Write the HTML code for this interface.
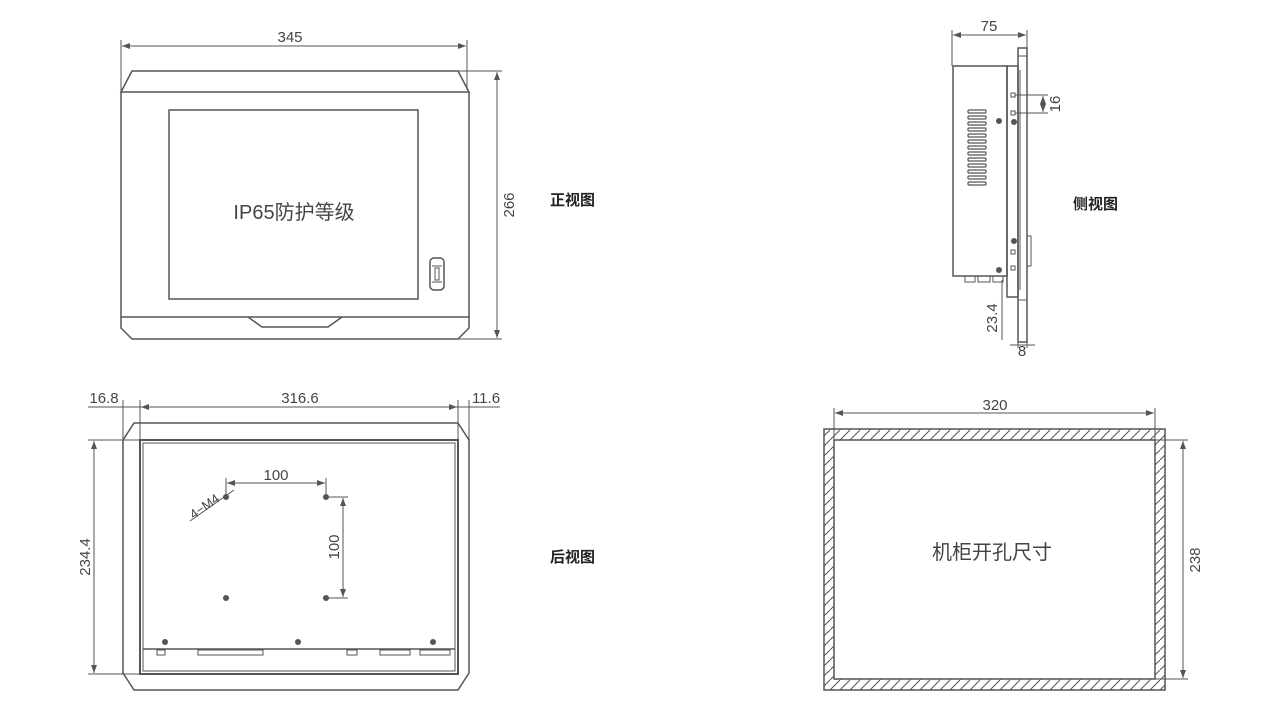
<!DOCTYPE html>
<html><head><meta charset="utf-8"><style>
html,body{margin:0;padding:0;background:#fff;}
svg{display:block;font-family:"Liberation Sans","Noto Sans CJK SC",sans-serif;}
</style></head><body>
<svg width="1280" height="710" viewBox="0 0 1280 710" xmlns="http://www.w3.org/2000/svg">
<defs>
<pattern id="h" width="10" height="10" patternUnits="userSpaceOnUse">
<line x1="0" y1="10" x2="10" y2="0" stroke="#555" stroke-width="1"/>
</pattern>
<marker id="a" markerWidth="8" markerHeight="6" refX="8" refY="3" orient="auto-start-reverse" markerUnits="userSpaceOnUse"><path d="M0,0L8,3L0,6z" fill="#555"/></marker>
</defs>
<g stroke="#555" fill="none" stroke-width="1">
<!-- FRONT VIEW -->
<line x1="121" y1="40" x2="121" y2="92"/><line x1="467" y1="40" x2="467" y2="90"/>
<line x1="122" y1="46" x2="466" y2="46" marker-start="url(#a)" marker-end="url(#a)"/>
<path d="M121,92 L132,71 L458,71 L469,92 Z" stroke-width="1.5"/>
<path d="M121,92 L121,317 L469,317 L469,92" stroke-width="1.5"/>
<path d="M121,317 L121,328 L132,339 L458,339 L469,328 L469,317" stroke-width="1.5"/>
<path d="M248,317 L262,327 L328,327 L342,317" stroke-width="1.5"/>
<rect x="169" y="110" width="249" height="189" stroke-width="1.5"/>
<rect x="430" y="258" width="14" height="32" rx="4" stroke-width="1.5"/>
<line x1="432" y1="266" x2="442" y2="266"/><line x1="432" y1="282" x2="442" y2="282"/>
<rect x="435" y="268" width="4" height="12"/>
<line x1="458" y1="71" x2="502" y2="71"/><line x1="458" y1="339" x2="502" y2="339"/>
<line x1="497" y1="72" x2="497" y2="338" marker-start="url(#a)" marker-end="url(#a)"/>
<!-- SIDE VIEW -->
<line x1="952" y1="30" x2="952" y2="66"/><line x1="1027" y1="30" x2="1027" y2="48"/>
<line x1="953" y1="35" x2="1026" y2="35" marker-start="url(#a)" marker-end="url(#a)"/>
<rect x="953" y="66" width="54" height="210" stroke-width="1.5"/>
<rect x="1007" y="66" width="11" height="231" stroke-width="1.5"/>
<rect x="1018" y="48" width="9" height="294" stroke-width="1.5"/>
<line x1="1018" y1="56" x2="1027" y2="56"/><line x1="1018" y1="300" x2="1027" y2="300"/>
<line x1="1020" y1="70" x2="1020" y2="290"/>
<rect x="1027" y="236" width="4" height="30"/>
<g stroke-width="1.2">
<rect x="968" y="110" width="18" height="3" rx="1"/><rect x="968" y="116" width="18" height="3" rx="1"/><rect x="968" y="122" width="18" height="3" rx="1"/><rect x="968" y="128" width="18" height="3" rx="1"/><rect x="968" y="134" width="18" height="3" rx="1"/><rect x="968" y="140" width="18" height="3" rx="1"/><rect x="968" y="146" width="18" height="3" rx="1"/><rect x="968" y="152" width="18" height="3" rx="1"/><rect x="968" y="158" width="18" height="3" rx="1"/><rect x="968" y="164" width="18" height="3" rx="1"/><rect x="968" y="170" width="18" height="3" rx="1"/><rect x="968" y="176" width="18" height="3" rx="1"/><rect x="968" y="182" width="18" height="3" rx="1"/>
</g>
<rect x="1011" y="93" width="4" height="4"/><rect x="1011" y="111" width="4" height="4"/>
<rect x="1011" y="250" width="4" height="4"/><rect x="1011" y="266" width="4" height="4"/>
<line x1="1015" y1="95" x2="1048" y2="95"/><line x1="1015" y1="113" x2="1048" y2="113"/>
<line x1="1043" y1="96" x2="1043" y2="112" marker-start="url(#a)" marker-end="url(#a)"/>
<rect x="965" y="276" width="10" height="6"/><rect x="978" y="276" width="12" height="6"/><rect x="993" y="276" width="10" height="6"/>
<line x1="1002" y1="280" x2="1002" y2="340"/>
<line x1="1018" y1="342" x2="1018" y2="348"/><line x1="1027" y1="342" x2="1027" y2="348"/>
<line x1="1010" y1="345" x2="1035" y2="345"/>
<!-- BACK VIEW -->
<line x1="123" y1="400" x2="123" y2="440"/><line x1="140" y1="400" x2="140" y2="440"/>
<line x1="458" y1="400" x2="458" y2="440"/><line x1="469" y1="400" x2="469" y2="440"/>
<line x1="88" y1="407" x2="500" y2="407"/>
<line x1="141" y1="407" x2="457" y2="407" marker-start="url(#a)" marker-end="url(#a)"/>
<path d="M123,440 L134,423 L458,423 L469,440 L469,673 L458,690 L134,690 L123,673 Z" stroke-width="1.5"/>
<rect x="140" y="440" width="318" height="234" stroke-width="2"/>
<rect x="143" y="443" width="312" height="228" stroke-width="1"/>
<line x1="143" y1="649" x2="455" y2="649" stroke-width="1.5"/>
<rect x="157" y="650" width="8" height="5"/><rect x="198" y="650" width="65" height="5"/><rect x="347" y="650" width="10" height="5"/><rect x="380" y="650" width="30" height="5"/><rect x="420" y="650" width="30" height="5"/>
<line x1="88" y1="440" x2="140" y2="440"/><line x1="88" y1="674" x2="140" y2="674"/>
<line x1="94" y1="441" x2="94" y2="673" marker-start="url(#a)" marker-end="url(#a)"/>
<line x1="226" y1="478" x2="226" y2="497"/><line x1="326" y1="478" x2="326" y2="497"/>
<line x1="227" y1="483" x2="325" y2="483" marker-start="url(#a)" marker-end="url(#a)"/>
<line x1="326" y1="497" x2="348" y2="497"/><line x1="326" y1="598" x2="348" y2="598"/>
<line x1="343" y1="498" x2="343" y2="597" marker-start="url(#a)" marker-end="url(#a)"/>
<line x1="190" y1="521" x2="234" y2="490"/>
<!-- CUTOUT -->
<path d="M824,429 H1165 V690 H824 Z M834,440 V679 H1155 V440 Z" fill="url(#h)" fill-rule="evenodd" stroke="none"/>
<rect x="824" y="429" width="341" height="261" stroke-width="1.5"/>
<rect x="834" y="440" width="321" height="239" stroke-width="1.5"/>
<line x1="834" y1="408" x2="834" y2="440"/><line x1="1155" y1="408" x2="1155" y2="440"/>
<line x1="835" y1="413" x2="1154" y2="413" marker-start="url(#a)" marker-end="url(#a)"/>
<line x1="1155" y1="440" x2="1188" y2="440"/><line x1="1155" y1="679" x2="1188" y2="679"/>
<line x1="1183" y1="441" x2="1183" y2="678" marker-start="url(#a)" marker-end="url(#a)"/>
</g>
<g fill="#555">
<circle cx="999" cy="121" r="3"/><circle cx="1014" cy="122" r="3"/><circle cx="1014" cy="241" r="3"/><circle cx="999" cy="270" r="3"/>
<circle cx="226" cy="497" r="3"/><circle cx="326" cy="497" r="3"/><circle cx="226" cy="598" r="3"/><circle cx="326" cy="598" r="3"/>
<circle cx="165" cy="642" r="3"/><circle cx="298" cy="642" r="3"/><circle cx="433" cy="642" r="3"/>
</g>
<g fill="#444" font-size="15" text-anchor="middle">
<text x="290" y="42">345</text>
<text transform="translate(514,205) rotate(-90)">266</text>
<text x="989" y="31">75</text>
<text transform="translate(1060,104) rotate(-90)">16</text>
<text transform="translate(997,318) rotate(-90)">23.4</text>
<text x="1022" y="356">8</text>
<text x="104" y="403">16.8</text>
<text x="300" y="403">316.6</text>
<text x="486" y="403">11.6</text>
<text transform="translate(90,557) rotate(-90)">234.4</text>
<text x="276" y="480">100</text>
<text transform="translate(339,547) rotate(-90)">100</text>
<text transform="translate(207,510) rotate(-35)" font-size="13">4−M4</text>
<text x="995" y="410">320</text>
<text transform="translate(1200,560) rotate(-90)">238</text>
<text x="294" y="219" font-size="20">IP65防护等级</text>
<text x="992" y="559" font-size="20">机柜开孔尺寸</text>
</g>
<g fill="#222" font-size="15" font-weight="bold">
<text x="550" y="205">正视图</text>
<text x="1073" y="209">侧视图</text>
<text x="550" y="562">后视图</text>
</g>
</svg>
</body></html>
